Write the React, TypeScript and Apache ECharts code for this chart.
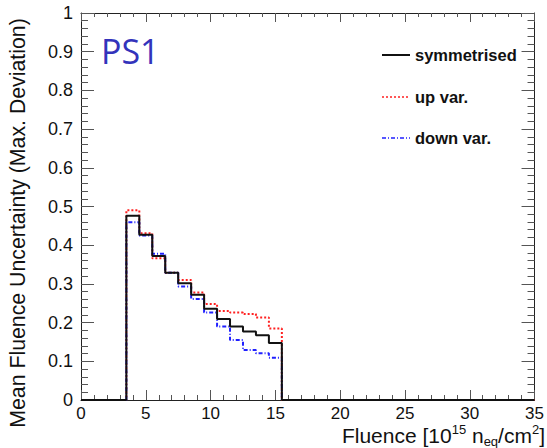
import React, { useEffect, useRef } from "react";
import * as echarts from "echarts";

const binEdges = [3.5, 4.5, 5.5, 6.5, 7.5, 8.5, 9.5, 10.5, 11.5, 12.5, 13.5, 14.5, 15.5];
const symmetrised = [0.476, 0.427, 0.372, 0.329, 0.302, 0.272, 0.236, 0.209, 0.19, 0.177, 0.167, 0.147];
const upVar = [0.49, 0.431, 0.366, 0.329, 0.31, 0.278, 0.248, 0.23, 0.226, 0.222, 0.213, 0.185];
const downVar = [0.459, 0.425, 0.378, 0.329, 0.293, 0.261, 0.226, 0.19, 0.155, 0.129, 0.121, 0.109];
const seriesNames = ["symmetrised", "up var.", "down var."];
const xRange = [0, 35];
const yRange = [0, 1];

function histData(vals: number[]) {
  const d: number[][] = [[xRange[0], 0]];
  vals.forEach((v, i) => d.push([binEdges[i], v]));
  d.push([binEdges[binEdges.length - 1], 0]);
  d.push([xRange[1], 0]);
  return d;
}

const FONT = "'Liberation Sans', Arial, Helvetica, sans-serif";
const AX = "#555";
const COLORS = ["#111111", "#ff2020", "#2020ff"];
const DASHES: any[] = ["solid", [2, 2], [4, 2, 1, 2]];
const WIDTHS = [2, 2, 2];

export default function App() {
  const ref = useRef<HTMLDivElement>(null);
  useEffect(() => {
    if (!ref.current) return;
    const chart = echarts.init(ref.current, null, { renderer: "svg" });
    const gridL = 81, gridR = 10, gridT = 13, gridB = 48;
    const axisLine = { show: true, onZero: false, lineStyle: { color: "#222", width: 1 } };
    const xAxisCommon = {
      type: "value" as const,
      min: xRange[0],
      max: xRange[1],
      interval: 5,
      axisLine,
      axisTick: { show: true, inside: true, length: 10, lineStyle: { color: AX } },
      minorTick: { show: true, splitNumber: 5, length: 5, lineStyle: { color: AX } },
      splitLine: { show: false },
    };
    const yAxisCommon = {
      type: "value" as const,
      min: yRange[0],
      max: yRange[1],
      interval: 0.1,
      axisLine,
      axisTick: { show: true, inside: true, length: 13, lineStyle: { color: AX } },
      minorTick: { show: true, splitNumber: 5, length: 7, lineStyle: { color: AX } },
      splitLine: { show: false },
    };
    const legendTops = [55, 97, 138];
    const legendGraphics: any[] = [];
    seriesNames.forEach((n, i) => {
      legendGraphics.push({
        type: "line",
        shape: { x1: 382, y1: legendTops[i], x2: 410, y2: legendTops[i] },
        style: {
          stroke: COLORS[i],
          lineWidth: i === 0 ? 2 : 1.5,
          lineDash: DASHES[i] === "solid" ? null : DASHES[i],
        },
      });
      legendGraphics.push({
        type: "text",
        x: 415,
        y: legendTops[i],
        style: {
          text: n,
          fontFamily: FONT,
          fontWeight: "bold",
          fontSize: 16.5,
          fill: "#111",
          verticalAlign: "middle",
          align: "left",
        },
      });
    });
    chart.setOption({
      animation: false,
      backgroundColor: "#fff",
      grid: { left: gridL, right: gridR, top: gridT, bottom: gridB, containLabel: false },
      xAxis: [
        {
          ...xAxisCommon,
          axisLabel: { fontFamily: FONT, fontSize: 17, color: "#111", margin: 5 },
        },
        {
          ...xAxisCommon,
          position: "top",
          axisTick: { show: true, inside: true, length: 9, lineStyle: { color: AX } },
          minorTick: { show: true, splitNumber: 5, length: 4, lineStyle: { color: AX } },
          axisLabel: { show: false },
        },
      ],
      yAxis: [
        {
          ...yAxisCommon,
          axisLabel: { fontFamily: FONT, fontSize: 18, color: "#111", margin: 8 },
        },
        {
          ...yAxisCommon,
          position: "right",
          axisLabel: { show: false },
        },
      ],
      series: seriesNames.map((n, i) => ({
        name: n,
        type: "line",
        step: "end",
        symbol: "none",
        data: histData([symmetrised, upVar, downVar][i]),
        lineStyle: { color: COLORS[i], width: WIDTHS[i], type: DASHES[i] },
        itemStyle: { color: COLORS[i] },
        z: i === 0 ? 3 : 2,
      })),
      graphic: [
        {
          type: "text",
          left: 101,
          top: 34,
          style: { text: "PS1", fontFamily: "'Open Sans', 'Noto Sans', sans-serif", fontSize: 34, fill: "#3333bb" },
        },
        {
          type: "text",
          x: 18,
          y: 223,
          rotation: Math.PI / 2,
          style: {
            text: "Mean Fluence Uncertainty (Max. Deviation)",
            fontFamily: FONT,
            fontSize: 21.3,
            fill: "#111",
            align: "center",
            verticalAlign: "middle",
          },
        },
        {
          type: "text",
          right: 2,
          top: 423,
          style: {
            text: "Fluence [10{sup|15} n{sub|eq}/cm{sup|2}]",
            fontFamily: FONT,
            fontSize: 21,
            fill: "#111",
            lineHeight: 25,
            rich: {
              sup: { fontSize: 13, fontFamily: FONT, fill: "#111", lineHeight: 13, verticalAlign: "top" },
              sub: { fontSize: 13, fontFamily: FONT, fill: "#111", lineHeight: 13, verticalAlign: "bottom" },
            },
          },
        },
        ...legendGraphics,
      ],
    });
    return () => chart.dispose();
  }, []);
  return <div ref={ref} style={{ width: 547, height: 448, position: "absolute", left: 0, top: 0 }} />;
}
